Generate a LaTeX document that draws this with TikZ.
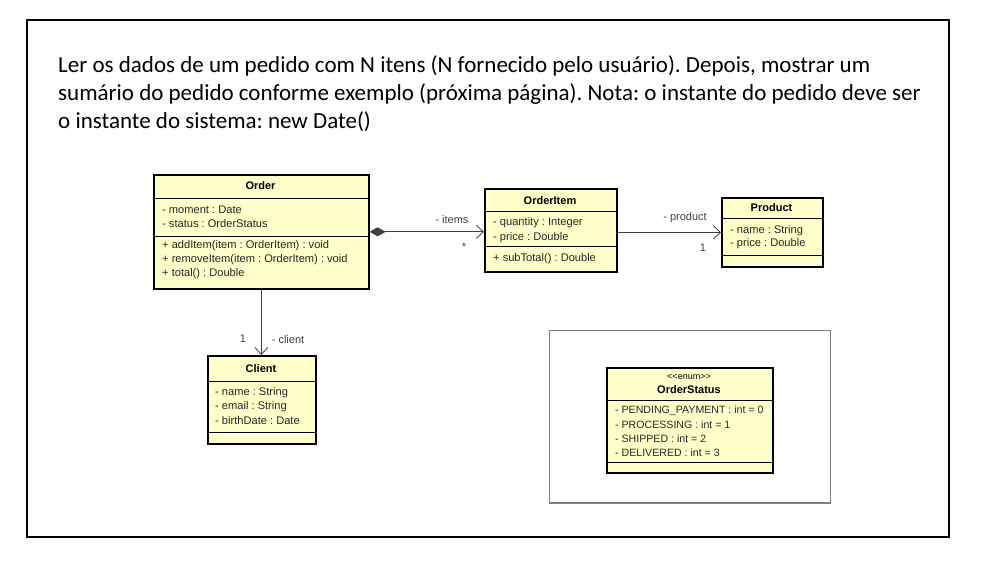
\documentclass[tikz,border=0pt]{standalone}
\usepackage{fontspec}
\setmainfont{Carlito}
\newfontfamily\umlfont{Liberation Sans}
\usepackage{xcolor}
\usetikzlibrary{arrows.meta,calc,positioning}
\definecolor{umlyellow}{RGB}{255,255,202}
\definecolor{framegray}{RGB}{128,128,128}
\frenchspacing

\tikzset{
  classbox/.style={draw=black,line width=1.6pt,fill=umlyellow,anchor=north west,inner sep=0pt},
  sepline/.style={line width=0.7pt},
  classname/.style={font=\umlfont\bfseries\fontsize{11}{13}\selectfont,inner sep=0pt},
  stereo/.style={font=\umlfont\fontsize{9}{11}\selectfont,inner sep=0pt},
  member/.style={font=\umlfont\fontsize{11.1}{13}\selectfont,anchor=west,inner sep=0pt,text=black!85},
  enummember/.style={member,font=\umlfont\fontsize{10.6}{13}\selectfont},
  rolelabel/.style={font=\umlfont\fontsize{11}{13}\selectfont,inner sep=0pt,text=black!75},
  assoc/.style={line width=0.8pt,draw=black!75},
  introtext/.style={font=\fontsize{23}{28}\selectfont,anchor=base west,inner sep=0pt},
}

\begin{document}
\begin{tikzpicture}[x=1pt,y=-1pt,>={Straight Barb[length=7pt,width=13pt]}]
\useasboundingbox (0,0) rectangle (981,576);
% outer frame and statement
\draw[line width=2pt] (27,20) rectangle (949,537);
\node[introtext] (line1) at (58,72) {Ler os dados de um pedido com N itens (N fornecido pelo usuário). Depois, mostrar um};
\node[introtext] (line2) at (58,100) {sumário do pedido conforme exemplo (próxima página). Nota: o instante do pedido deve ser};
\node[introtext] (line3) at (58,128) {o instante do sistema: new Date()};

% Order
\node[classbox,minimum width=215pt,minimum height=114pt] (order) at (153,174) {};
\draw[sepline] (153,198) -- (368,198);
\draw[sepline] (153,236) -- (368,236);
\node[classname] (ordername) at (260.5,186) {Order};
\node[member] (ordermoment) at (162,210) {- moment : Date};
\node[member] (orderstatus) at (162,224) {- status : OrderStatus};
\node[member] (orderadd) at (162,246) {+ addItem(item : OrderItem) : void};
\node[member] (orderremove) at (162,260) {+ removeItem(item : OrderItem) : void};
\node[member] (ordertotal) at (162,274) {+ total() : Double};

% OrderItem
\node[classbox,minimum width=132pt,minimum height=83pt] (orderitem) at (484,188) {};
\draw[sepline] (484,211) -- (616,211);
\draw[sepline] (484,246) -- (616,246);
\node[classname] (orderitemname) at (550,201) {OrderItem};
\node[member] (itemquantity) at (493,223) {- quantity : Integer};
\node[member] (itemprice) at (493,238) {- price : Double};
\node[member] (itemsubtotal) at (493,259) {+ subTotal() : Double};

% Product
\node[classbox,minimum width=101pt,minimum height=69pt] (product) at (721,197) {};
\draw[sepline] (721,218) -- (822,218);
\draw[sepline] (721,255) -- (822,255);
\node[classname] (productname) at (771.5,208) {Product};
\node[member] (productname2) at (730,231) {- name : String};
\node[member] (productprice) at (730,244) {- price : Double};

% Client
\node[classbox,minimum width=108pt,minimum height=88pt] (client) at (207,355) {};
\draw[sepline] (207,381) -- (315,381);
\draw[sepline] (207,432) -- (315,432);
\node[classname] (clientname) at (261,369) {Client};
\node[member] (clientname2) at (215,393) {- name : String};
\node[member] (clientemail) at (215,407) {- email : String};
\node[member] (clientbirth) at (215,421) {- birthDate : Date};

% enum panel
\draw[framegray,line width=0.8pt] (549,330) rectangle (830,503);
\draw[framegray,line width=2pt] (549,503) -- (830,503);
\node[classbox,minimum width=166pt,minimum height=105pt] (orderstatus) at (606,367) {};
\draw[sepline] (606,400) -- (772,400);
\draw[sepline] (606,462) -- (772,462);
\node[stereo] (enumtag) at (689,377) {<<enum>>};
\node[classname] (orderstatusname) at (689,390) {OrderStatus};
\node[enummember] (pending) at (615,411) {- PENDING\_PAYMENT : int = 0};
\node[enummember] (processing) at (615,425) {- PROCESSING : int = 1};
\node[enummember] (shipped) at (615,439) {- SHIPPED : int = 2};
\node[enummember] (delivered) at (615,453) {- DELIVERED : int = 3};

% associations
\draw[assoc,{Diamond[length=16pt,width=9pt]}->] (order.east) -- (order.east -| orderitem.west);
\node[rolelabel] (itemsrole) at (452,220) {- items};
\node[rolelabel] (itemsmult) at (464,247) {*};
\draw[assoc,->] (product.west -| orderitem.east) -- (product.west);
\node[rolelabel] (productrole) at (685,218) {- product};
\node[rolelabel] (productmult) at (703,248) {1};
\draw[assoc,->] (order.south) -- (order.south |- client.north);
\node[rolelabel] (clientmult) at (243,339) {1};
\node[rolelabel] (clientrole) at (288,340) {- client};
\end{tikzpicture}
\end{document}
